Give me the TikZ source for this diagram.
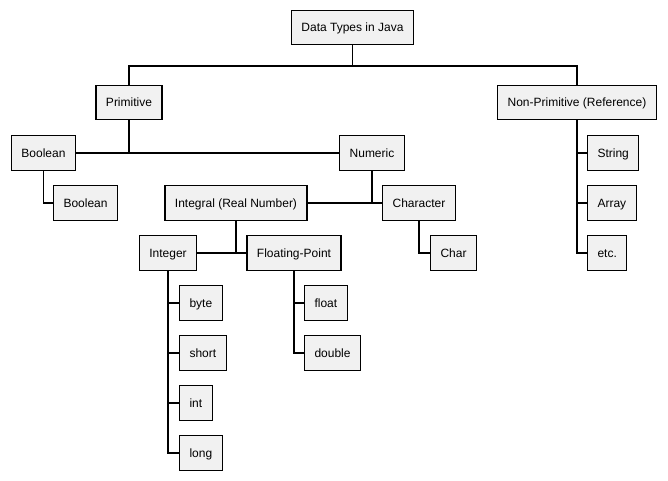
\documentclass[tikz,border=0pt]{standalone}
\usepackage{fontspec}
\setmainfont{Liberation Sans}
\usepackage{xcolor}
\definecolor{boxfill}{RGB}{241,241,241}

\begin{document}
\begin{tikzpicture}[x=0.75pt,y=-0.75pt,
  typebox/.style={draw=black,fill=boxfill,line width=0.8pt,minimum height=26pt,
    inner xsep=7.5pt,inner ysep=0pt,text height=6.4pt,text depth=0pt,
    font=\fontsize{9}{10}\selectfont},
  tree/.style={line width=0.8pt}
]
  \useasboundingbox (0,0) rectangle (668,480);
  % top levels
  \node[typebox] (root) at (352.5,27.5) {Data Types in Java};
  \node[typebox] (prim) at (129,102.5) {Primitive};
  \node[typebox] (nonprim) at (577,102.5) {Non-Primitive (Reference)};
  \coordinate (j0) at (352.5,66);
  \draw[tree] (root) -- (j0);
  \draw[tree] (prim.north) -- (prim.north |- j0) -- (nonprim.north |- j0) -- (nonprim.north);
  % primitive branch
  \node[typebox] (bool) at (43.5,153) {Boolean};
  \node[typebox] (numeric) at (372,153) {Numeric};
  \draw[tree] (bool.east) -- (numeric.west);
  \draw[tree] (prim.south) -- (prim.south |- bool.east);
  \node[typebox,anchor=west] (boolc) at (53,203) {Boolean};
  \draw[tree] (bool.south) |- (boolc.west);
  \node[typebox] (integral) at (236,203) {Integral (Real Number)};
  \node[typebox] (character) at (419,203) {Character};
  \draw[tree] (integral.east) -- (character.west);
  \draw[tree] (numeric.south) -- (numeric.south |- character.west);
  \node[typebox,anchor=west] (chr) at (430,253) {Char};
  \draw[tree] (character.south) |- (chr.west);
  \node[typebox] (integer) at (168,253) {Integer};
  \node[typebox] (floating) at (294,253) {Floating-Point};
  \draw[tree] (integer.east) -- (floating.west);
  \draw[tree] (integral.south) -- (integral.south |- integer.east);
  % leaves
  \foreach \nm/\lbl/\y in {byte/byte/303, short/short/353, int/int/403, long/long/453}{
    \node[typebox,anchor=west] (\nm) at (179,\y) {\lbl};
    \draw[tree] (integer.south) |- (\nm.west);
  }
  \foreach \nm/\lbl/\y in {float/float/303, double/double/353}{
    \node[typebox,anchor=west] (\nm) at (304,\y) {\lbl};
    \draw[tree] (floating.south) |- (\nm.west);
  }
  % non-primitive branch
  \foreach \nm/\lbl/\y in {string/String/153, array/Array/203, etc/etc./253}{
    \node[typebox,anchor=west] (\nm) at (587,\y) {\lbl};
    \draw[tree] (nonprim.south) |- (\nm.west);
  }
\end{tikzpicture}
\end{document}
